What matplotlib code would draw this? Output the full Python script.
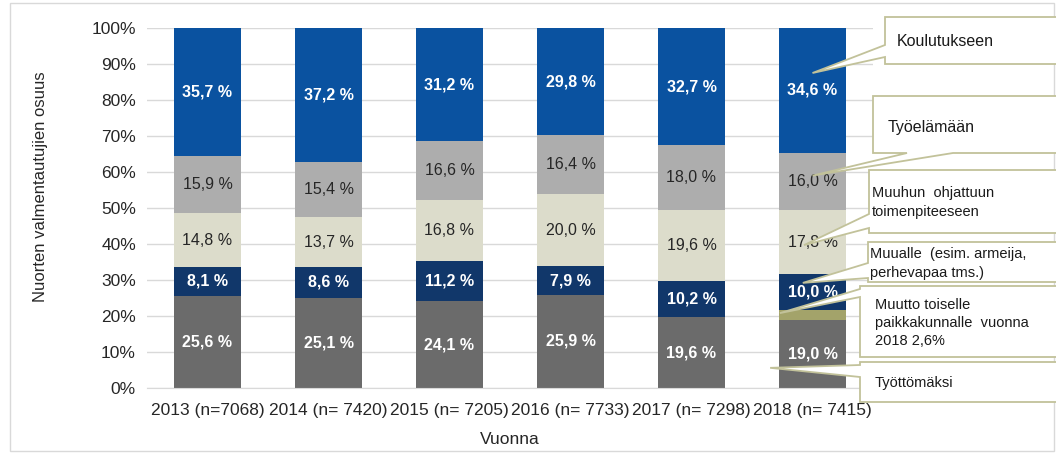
import matplotlib
matplotlib.use("Agg")
import matplotlib.pyplot as plt
from matplotlib.patches import Polygon, Rectangle
import numpy as np

plt.rcParams['font.family'] = ['Liberation Sans', 'DejaVu Sans']

years = ["2013 (n=7068)", "2014 (n= 7420)", "2015 (n= 7205)", "2016 (n= 7733)", "2017 (n= 7298)", "2018 (n= 7415)"]
tyottomaksi = [25.6, 25.1, 24.1, 25.9, 19.6, 19.0]
muutto = [0, 0, 0, 0, 0, 2.6]
muualle = [8.1, 8.6, 11.2, 7.9, 10.2, 10.0]
muuhun = [14.8, 13.7, 16.8, 20.0, 19.6, 17.8]
tyoelamaan = [15.9, 15.4, 16.6, 16.4, 18.0, 16.0]
koulutukseen = [35.7, 37.2, 31.2, 29.8, 32.7, 34.6]

series = [
    ("Työttömäksi", tyottomaksi, "#6b6b6b", "white", "bold"),
    ("Muutto", muutto, "#a3a36a", None, None),
    ("Muualle", muualle, "#11376a", "white", "bold"),
    ("Muuhun", muuhun, "#dcdccb", "#262626", "normal"),
    ("Työelämään", tyoelamaan, "#adadad", "#262626", "normal"),
    ("Koulutukseen", koulutukseen, "#0a52a0", "white", "bold"),
]

W, H = 1056, 454
fig = plt.figure(figsize=(W / 100, H / 100), dpi=100)
ax = fig.add_axes([147 / W, 1 - 388 / H, (873 - 147) / W, (388 - 28) / H])

x = np.arange(len(years))
bottom = np.zeros(len(years))
for name, vals, col, tcol, tw in series:
    vals = np.array(vals, dtype=float)
    ax.bar(x, vals, 0.55, bottom=bottom, color=col, zorder=2)
    if tcol is not None:
        for xi, v, b in zip(x, vals, bottom):
            if v > 0:
                ax.text(xi, b + v / 2, f"{v:.1f} %".replace(".", ","), ha="center", va="center",
                        color=tcol, fontsize=11.5, fontweight=tw, zorder=3)
    bottom += vals

ax.set_xlim(-0.5, len(years) - 0.5)
ax.set_ylim(0, 100)
ax.set_yticks(np.arange(0, 101, 10))
ax.set_yticklabels([f"{v}%" for v in range(0, 101, 10)], fontsize=12.5, color="#262626")
ax.set_xticks(x)
ax.set_xticklabels(years, fontsize=12.5, color="#262626")
ax.tick_params(length=0, pad=8)
ax.tick_params(axis="x", pad=11)
ax.yaxis.grid(True, color="#d9d9d9", linewidth=1, zorder=0)
ax.set_axisbelow(True)
for s in ["top", "right", "left"]:
    ax.spines[s].set_visible(False)
ax.spines["bottom"].set_color("#d9d9d9")
ax.set_ylabel("Nuorten valmentautujien osuus", fontsize=12, color="#262626")
ax.yaxis.set_label_coords(-0.136, 0.558)
ax.set_xlabel("Vuonna", fontsize=12.5, color="#262626", labelpad=10)

# outer frame
fig.patches.append(Rectangle((10 / W, 1 - 451 / H), (1054 - 10) / W, (451 - 3) / H,
                             transform=fig.transFigure, fill=False, edgecolor="#d9d9d9", lw=1))

edge = "#c2c29a"


def px(xp, yp):
    return (xp / W, 1 - yp / H)


def callout(box, side, base, tip_data, lines, tx, ty, fs=10.5):
    x0, y0, x1, y1 = box  # image px, y down
    tip = ax.transData.transform(tip_data)
    tipf = fig.transFigure.inverted().transform(tip)
    b1, b2 = base
    if side == "left":
        pts = [px(x0, y0), px(x1, y0), px(x1, y1), px(x0, y1), px(x0, b2), tuple(tipf), px(x0, b1)]
    else:  # bottom
        pts = [px(x0, y0), px(x1, y0), px(x1, y1), px(b2, y1), tuple(tipf), px(b1, y1), px(x0, y1)]
    fig.patches.append(Polygon(pts, closed=True, transform=fig.transFigure, facecolor="white",
                               edgecolor=edge, lw=1.3, zorder=5))
    for t, yy in zip(lines, ty):
        fig.text(tx / W, 1 - yy / H, t, ha="left", va="center", fontsize=fs, color="#1a1a1a", zorder=6)


callout((885, 17, 1080, 64), "left", (45, 57), (5.0, 87.5), ["Koulutukseen"], 897, [42], fs=11.5)
callout((873, 96, 1080, 153), "bottom", (907, 953), (5.0, 59.0), ["Työelämään"], 888, [127], fs=11.5)
callout((869, 170, 1080, 233), "left", (214, 228), (4.93, 39.7), ["Muuhun  ohjattuun", "toimenpiteeseen"], 872, [193, 212])
callout((868, 242, 1080, 282), "left", (263, 278), (4.92, 29.2), ["Muualle  (esim. armeija,", "perhevapaa tms.)"], 870, [254, 273])
callout((860, 286, 1080, 357), "left", (289, 297), (4.73, 20.8), ["Muutto toiselle", "paikkakunnalle  vuonna", "2018 2,6%"], 875, [305, 323, 341])
callout((860, 362, 1080, 402), "left", (365, 377), (4.65, 5.6), ["Työttömäksi"], 875, [383])

fig.savefig("out.png", dpi=100)
